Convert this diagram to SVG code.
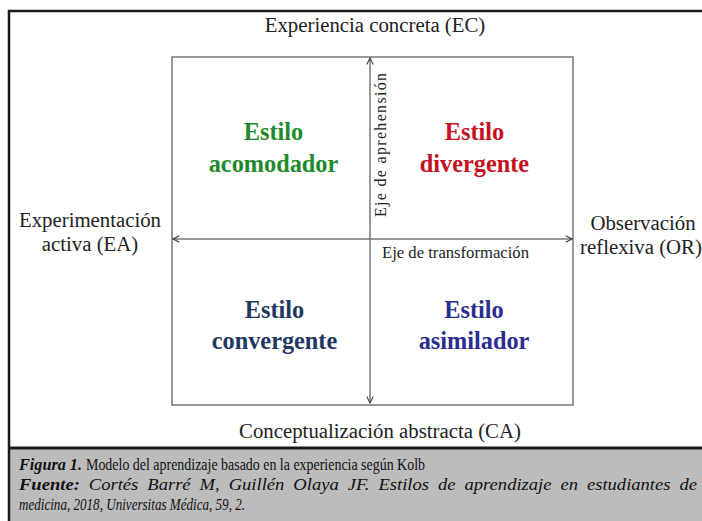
<svg xmlns="http://www.w3.org/2000/svg" width="702" height="521" viewBox="0 0 702 521">
<defs>
<marker id="ah" viewBox="0 0 10 10" refX="9" refY="5" markerWidth="8" markerHeight="8" markerUnits="userSpaceOnUse" orient="auto">
<path d="M1,1 L9,5 L1,9" fill="none" stroke="#444" stroke-width="1.4"/>
</marker>
<style>
.lbl{font-family:"Liberation Serif","Times New Roman",serif;font-size:20.8px;fill:#222;text-anchor:middle}
.sty{font-family:"Liberation Serif","Times New Roman",serif;font-size:24.3px;font-weight:bold;text-anchor:middle}
.ax{font-family:"Liberation Serif","Times New Roman",serif;font-size:16px;fill:#222}
.cap{font-family:"Liberation Serif","Times New Roman",serif;font-size:17px;fill:#111}
.ln{stroke:#777;stroke-width:1.5;fill:none}
</style>
</defs>
<rect width="702" height="521" fill="#fff"/>
<rect x="8" y="448" width="694" height="73" fill="#bdbcbc"/>
<path d="M9,521 V11 H702" fill="none" stroke="#1a1a1a" stroke-width="2.5"/>
<line x1="8" y1="448" x2="702" y2="448" stroke="#1a1a1a" stroke-width="3"/>
<g id="frame"><rect x="172" y="57" width="401" height="348" class="ln"/></g>
<g id="connectors">
<line x1="370" y1="239" x2="370" y2="58" class="ln" marker-end="url(#ah)"/>
<line x1="370" y1="239" x2="370" y2="403" class="ln" marker-end="url(#ah)"/>
<line x1="370" y1="239" x2="173" y2="239" class="ln" marker-end="url(#ah)"/>
<line x1="370" y1="239" x2="572" y2="239" class="ln" marker-end="url(#ah)"/>
</g>
<g id="ec"><text class="lbl" x="375" y="32">Experiencia concreta (EC)</text></g>
<g id="ea"><text class="lbl" x="90" y="227">Experimentación</text><text class="lbl" x="90" y="251">activa (EA)</text></g>
<g id="or"><text class="lbl" x="643" y="230">Observación</text><text class="lbl" x="641" y="254">reflexiva (OR)</text></g>
<g id="ca"><text class="lbl" x="380" y="438">Conceptualización abstracta (CA)</text></g>
<g id="acomodador"><text class="sty" fill="#1f8a2c" x="273.5" y="140">Estilo</text><text class="sty" fill="#1f8a2c" x="273.5" y="172">acomodador</text></g>
<g id="divergente"><text class="sty" fill="#c4121f" x="474.5" y="140">Estilo</text><text class="sty" fill="#c4121f" x="474.5" y="172">divergente</text></g>
<g id="convergente"><text class="sty" fill="#1f3862" x="274.5" y="318">Estilo</text><text class="sty" fill="#1f3862" x="274.5" y="349">convergente</text></g>
<g id="asimilador"><text class="sty" fill="#2b2e8f" x="474" y="318">Estilo</text><text class="sty" fill="#2b2e8f" x="474" y="349">asimilador</text></g>
<g id="eje-aprehension"><text class="ax" transform="translate(386,145) rotate(-90)" text-anchor="middle" textLength="144" lengthAdjust="spacing">Eje de aprehensión</text></g>
<g id="eje-transformacion"><text class="ax" x="382" y="258" textLength="147" lengthAdjust="spacingAndGlyphs">Eje de transformación</text></g>
<g id="caption">
<text class="cap" x="19" y="470" font-weight="bold" font-style="italic" textLength="63" lengthAdjust="spacingAndGlyphs">Figura 1.</text>
<text class="cap" x="86" y="470" textLength="339" lengthAdjust="spacingAndGlyphs">Modelo del aprendizaje basado en la experiencia según Kolb</text>
<text class="cap" x="19" y="490" font-style="italic" word-spacing="4" textLength="678" lengthAdjust="spacingAndGlyphs"><tspan font-weight="bold">Fuente:</tspan> Cortés Barré M, Guillén Olaya JF. Estilos de aprendizaje en estudiantes de</text>
<text class="cap" x="19" y="510" font-style="italic" textLength="226" lengthAdjust="spacingAndGlyphs">medicina, 2018, Universitas Médica, 59, 2.</text>
</g>
</svg>
